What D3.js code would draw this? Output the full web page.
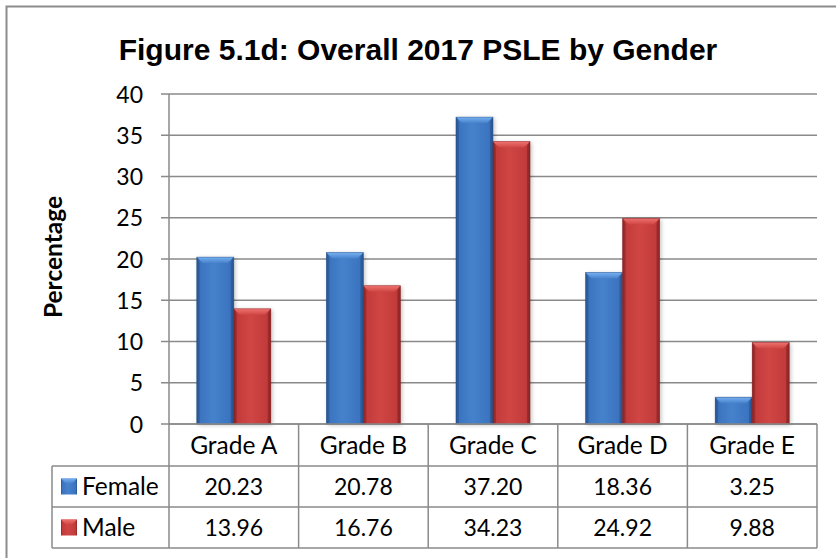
<!DOCTYPE html>
<html>
<head>
<meta charset="utf-8">
<script src="https://cdn.jsdelivr.net/npm/d3@7"></script>
<style>
  html, body { margin: 0; padding: 0; background: #fff; }
  svg { display: block; }
</style>
</head>
<body>
<svg id="chart" width="836" height="558"></svg>
<script>
const categories = ["Grade A", "Grade B", "Grade C", "Grade D", "Grade E"];
const seriesNames = ["Female", "Male"];
const female = [20.23, 20.78, 37.20, 18.36, 3.25];
const male = [13.96, 16.76, 34.23, 24.92, 9.88];
const femaleLabels = ["20.23", "20.78", "37.20", "18.36", "3.25"];
const maleLabels = ["13.96", "16.76", "34.23", "24.92", "9.88"];
const yTicks = [0, 5, 10, 15, 20, 25, 30, 35, 40];
const chartTitle = "Figure 5.1d: Overall 2017 PSLE by Gender";
const yTitle = "Percentage";

(function () {
const seriesValues = [female, male];
const seriesLabels = [femaleLabels, maleLabels];
const palette = {
  Female: { base: "#3b73bf", light: "#78b0f0", dark: "#27548f", mid: "#4682cc" },
  Male:   { base: "#c23a3a", light: "#ee7270", dark: "#8a2424", mid: "#cf4644" }
};

const svg = d3.select("#chart");
const gridColor = "#8a8a8a";
const font = "Lato, 'Open Sans', sans-serif";
const numSize = 23, wordSize = 24.5;

// Outer chart border
svg.append("rect").attr("x", 6.5).attr("y", 6.5).attr("width", 840).attr("height", 560)
  .attr("fill", "#fff").attr("stroke", "#8c8c8c").attr("stroke-width", 2);

// Title
svg.append("text").attr("x", 418).attr("y", 60).attr("text-anchor", "middle")
  .attr("font-family", "'Liberation Sans', Arial, sans-serif").attr("font-weight", "bold")
  .attr("font-size", 30).attr("fill", "#000").text(chartTitle);

// Scales
const pLeft = 169, pRight = 817, pTop = 94, pBottom = 424;
const x0 = d3.scaleBand().domain(categories).range([pLeft, pRight]).padding(0);
const bw = x0.bandwidth();
const pairW = bw * 2 / 3.5;
const x1 = d3.scaleBand().domain(seriesNames).range([(bw - pairW) / 2, (bw + pairW) / 2]).padding(0);
const y = d3.scaleLinear().domain([0, 40]).range([pBottom, pTop]);

// Gradients
const defs = svg.append("defs");
seriesNames.forEach(s => {
  const c = palette[s];
  const g = defs.append("linearGradient").attr("id", "body-" + s).attr("x1", 0).attr("x2", 1).attr("y1", 0).attr("y2", 0);
  g.append("stop").attr("offset", "0%").attr("stop-color", c.dark);
  g.append("stop").attr("offset", "8%").attr("stop-color", c.base);
  g.append("stop").attr("offset", "45%").attr("stop-color", c.mid);
  g.append("stop").attr("offset", "90%").attr("stop-color", c.base);
  g.append("stop").attr("offset", "100%").attr("stop-color", c.dark);
  const t = defs.append("linearGradient").attr("id", "top-" + s).attr("x1", 0).attr("x2", 0).attr("y1", 0).attr("y2", 1);
  t.append("stop").attr("offset", "0%").attr("stop-color", c.light);
  t.append("stop").attr("offset", "100%").attr("stop-color", c.mid);
});
const blur = defs.append("filter").attr("id", "shadow").attr("x", "-20%").attr("y", "-5%").attr("width", "140%").attr("height", "115%");
blur.append("feGaussianBlur").attr("stdDeviation", 2);

// Gridlines and y ticks
const yAxis = d3.axisLeft(y).tickValues(yTicks).tickSize(0).tickPadding(0).tickFormat(d3.format("d"));
const gridG = svg.append("g");
gridG.selectAll("line").data(yTicks).join("line")
  .attr("x1", pLeft - 8).attr("x2", pRight)
  .attr("y1", d => y(d)).attr("y2", d => y(d))
  .attr("stroke", gridColor).attr("stroke-width", 1.5);

const ax = svg.append("g").attr("transform", `translate(${pLeft - 26},0)`).call(yAxis);
ax.select(".domain").remove();
ax.selectAll("text").attr("font-family", font).attr("font-size", numSize).attr("fill", "#000").attr("dy", "0.35em");

// y axis line
svg.append("line").attr("x1", pLeft).attr("x2", pLeft).attr("y1", pTop).attr("y2", pBottom)
  .attr("stroke", gridColor).attr("stroke-width", 1.5);

// y title
svg.append("text").attr("transform", `translate(62,257) rotate(-90)`).attr("text-anchor", "middle")
  .attr("font-family", font).attr("font-weight", "bold").attr("font-size", wordSize).attr("fill", "#000").text(yTitle);

// Bars
function drawBar(g, xPos, w, yTop, s) {
  const h = pBottom - yTop;
  const b = Math.min(6, h / 2, w / 2);
  g.append("rect").attr("x", xPos + 1.5).attr("y", yTop + 1).attr("width", w).attr("height", h)
    .attr("fill", "#000").attr("opacity", 0.25).attr("filter", "url(#shadow)");
  g.append("rect").attr("x", xPos).attr("y", yTop).attr("width", w).attr("height", h)
    .attr("fill", `url(#body-${s})`);
  g.append("polygon").attr("points", [
    [xPos, yTop], [xPos + w, yTop], [xPos + w - b, yTop + b], [xPos + b, yTop + b]
  ].map(p => p.join(",")).join(" ")).attr("fill", `url(#top-${s})`);
  g.append("polygon").attr("points", [
    [xPos, yTop], [xPos + b * 0.5, yTop + b], [xPos + b * 0.5, pBottom - 1], [xPos, pBottom]
  ].map(p => p.join(",")).join(" ")).attr("fill", palette[s].dark).attr("opacity", 0.5);
  g.append("polygon").attr("points", [
    [xPos + w, yTop], [xPos + w - b * 0.5, yTop + b], [xPos + w - b * 0.5, pBottom - 1], [xPos + w, pBottom]
  ].map(p => p.join(",")).join(" ")).attr("fill", palette[s].dark).attr("opacity", 0.5);
  g.append("rect").attr("x", xPos).attr("y", yTop).attr("width", w).attr("height", h)
    .attr("fill", "none").attr("stroke", palette[s].dark).attr("stroke-width", 0.6).attr("opacity", 0.7);
}

const barsG = svg.append("g");
seriesNames.forEach((s, si) => {
  categories.forEach((c, ci) => {
    drawBar(barsG, x0(c) + x1(s), x1.bandwidth(), y(seriesValues[si][ci]), s);
  });
});

// Data table
const row0 = pBottom, row1 = 466, row2 = 507, row3 = 548;
const legendLeft = 52;
const tableG = svg.append("g").attr("stroke", gridColor).attr("stroke-width", 1.5);
tableG.append("line").attr("x1", pLeft).attr("x2", pRight).attr("y1", row0).attr("y2", row0);
[row1, row2, row3].forEach(r => {
  tableG.append("line").attr("x1", legendLeft).attr("x2", pRight).attr("y1", r).attr("y2", r);
});
const bounds = categories.map(c => x0(c)).concat([pRight]);
bounds.forEach(bx => {
  tableG.append("line").attr("x1", bx).attr("x2", bx).attr("y1", row0).attr("y2", row3);
});
tableG.append("line").attr("x1", legendLeft).attr("x2", legendLeft).attr("y1", row1).attr("y2", row3);

const textG = svg.append("g").attr("font-family", font).attr("fill", "#000");
categories.forEach(c => {
  textG.append("text").attr("x", x0(c) + bw / 2).attr("y", (row0 + row1) / 2).attr("dy", "0.35em")
    .attr("font-size", wordSize).attr("text-anchor", "middle").text(c);
});
const rowsY = [(row1 + row2) / 2, (row2 + row3) / 2];
seriesNames.forEach((s, si) => {
  categories.forEach((c, ci) => {
    textG.append("text").attr("x", x0(c) + bw / 2).attr("y", rowsY[si]).attr("dy", "0.35em")
      .attr("font-size", numSize).attr("text-anchor", "middle").text(seriesLabels[si][ci]);
  });
  const kx = 61, ky = rowsY[si] - 8, ks = 16;
  const kg = svg.append("g");
  kg.append("rect").attr("x", kx).attr("y", ky).attr("width", ks).attr("height", ks).attr("fill", `url(#body-${s})`);
  kg.append("polygon").attr("points", [[kx, ky], [kx + ks, ky], [kx + ks - 5, ky + 5], [kx + 5, ky + 5]]
    .map(p => p.join(",")).join(" ")).attr("fill", `url(#top-${s})`);
  textG.append("text").attr("x", 82).attr("y", rowsY[si]).attr("dy", "0.35em")
    .attr("font-size", wordSize).text(s);
});
})();
</script>
</body>
</html>
